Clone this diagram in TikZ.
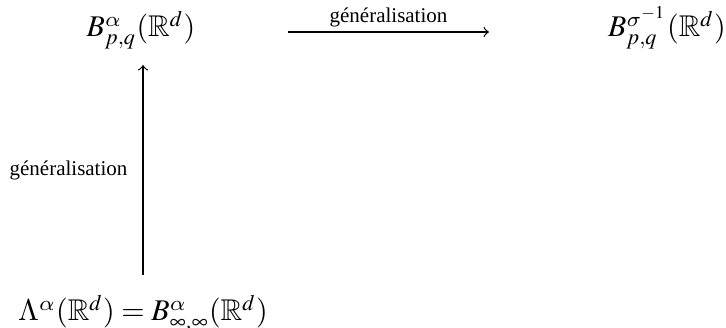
\documentclass[tikz,border=0pt]{standalone}
\usepackage{mathptmx}
\usepackage{amssymb}
\DeclareSymbolFont{cmletters}{OML}{cmm}{m}{it}
\DeclareSymbolFont{cmupright}{OT1}{cmr}{m}{n}
\DeclareMathSymbol{\alpha}{\mathord}{cmletters}{"0B}
\DeclareMathSymbol{\sigma}{\mathord}{cmletters}{"1B}
\DeclareMathSymbol{\Lambda}{\mathalpha}{cmupright}{"03}
\usepackage[no-math]{fontspec}
\setmainfont{Liberation Serif}
\tikzset{
  obj/.style={inner sep=0pt, anchor=base, font=\normalsize},
  lbl/.style={inner sep=0pt, font=\scriptsize},
  arr/.style={->, line width=0.4pt},
}
\begin{document}
\begin{tikzpicture}[x=0.33333pt, y=-0.33333pt]
\useasboundingbox (0,0) rectangle (726,328);
\node[obj] (A) at (141,37) {$B^{\alpha}_{p,q}(\mathbb{R}^d)$};
\node[obj] (B) at (667,37) {$B^{\sigma^{-1}}_{p,q}(\mathbb{R}^d)$};
\node[obj] (C) at (143,321) {$\Lambda^{\alpha}(\mathbb{R}^d)=B^{\alpha}_{\infty,\infty}(\mathbb{R}^d)$};
\coordinate (h1) at (288,32);
\coordinate (h2) at (489,32);
\coordinate (v1) at (143,275);
\coordinate (v2) at (143,65);
\draw[arr] (h1) -- node[lbl, above=1.4pt] (L1) {généralisation} (h2);
\draw[arr] (v1) -- node[lbl, left=5pt] (L2) {généralisation} (v2);
\end{tikzpicture}
\end{document}
